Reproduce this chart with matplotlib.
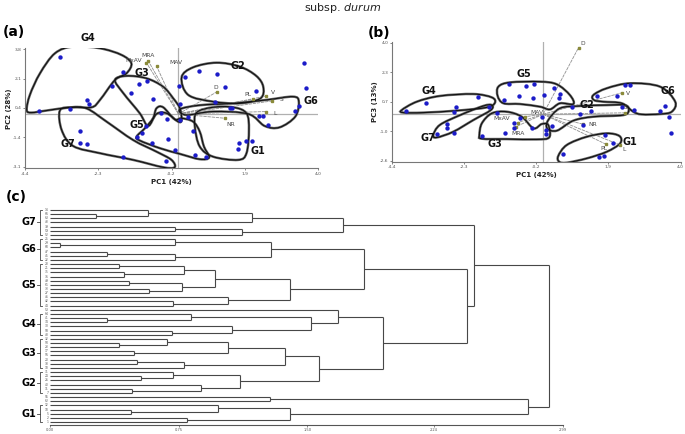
import numpy as np
import matplotlib
matplotlib.use("Agg")
import matplotlib.pyplot as plt
from matplotlib.path import Path
from matplotlib.patches import PathPatch

# ---------------- DATA ----------------
# Panel (a): PC1 vs PC2 scores
a_pc1 = [-3.40, -3.99, -3.11, -2.62, -2.56, -1.58, -1.90, -1.37, -1.13, -0.89,
         -0.73, 0.01, 0.04, -0.51, -0.34, 0.04, 0.26, 0.42, 0.18, 0.58,
         1.11, 1.04, 1.32, 2.21, 1.49, 2.31, 2.43, 2.57, 3.34, 3.45,
         3.59, 3.65, 1.73, 1.95, 2.11, 1.70, -0.92, -1.04, -1.18, -0.75,
         -0.30, -0.09, 0.47, 0.80, -0.36, -1.59, -2.82, -2.83, -2.62, 1.53]
a_pc2 = [3.30, 0.19, 0.29, 0.82, 0.58, 2.43, 1.63, 1.24, 1.73, 1.90,
         0.86, 1.65, 0.58, 0.08, -0.31, -0.35, -0.19, -1.01, 2.18, 2.51,
         2.31, 0.70, 1.59, 1.36, 0.35, -0.10, -0.14, -0.62, 0.16, 0.49,
         2.99, 1.50, -1.67, -1.57, -1.55, -2.06, -0.70, -1.09, -1.36, -1.71,
         -1.44, -2.10, -2.41, -2.49, -2.72, -2.49, -0.99, -1.71, -1.73, 0.33]

a_vec_names = ["MRA", "MxAV", "MAV", "D", "PL", "V", "S", "L", "NR"]
a_vec_x = [-0.87, -0.92, -0.63, 1.11, 2.14, 2.52, 2.69, 2.52, 1.33]
a_vec_y = [3.11, 2.99, 2.80, 1.30, 0.86, 1.05, 0.76, 0.14, -0.25]

hull_a = {
    "G4": ([-4.35, -4.26, -3.97, -3.54, -3.02, -2.25, -1.63, -1.35, -1.49, -1.82, -2.25, -2.49, -3.06, -3.78, -4.21],
           [0.23, 1.11, 2.37, 3.54, 3.93, 3.83, 3.44, 2.95, 2.37, 1.98, 0.82, 0.39, 0.39, 0.20, 0.08]),
    "G3": ([-1.82, -1.49, -0.92, -0.44, -0.15, 0.04, 0.09, -0.01, -0.34, -0.63, -0.87, -1.11, -1.58],
           [1.98, 2.22, 2.08, 1.59, 0.91, 0.33, -0.35, -0.45, 0.04, 0.00, -0.70, 0.04, 1.21]),
    "G5": ([-1.20, -0.96, -0.73, -0.63, -0.44, -0.11, 0.09, 0.42, 0.61, 0.73, 0.88, 0.61, 0.04, -0.53, -1.11],
           [-1.32, -0.83, -0.25, 0.33, 0.39, -0.31, -0.25, -0.45, -1.03, -1.90, -2.53, -2.64, -2.33, -2.00, -1.55]),
    "G7": ([-3.40, -3.06, -2.62, -2.06, -1.30, -0.63, -0.20, -0.11, -0.44, -1.30, -2.25, -3.02, -3.35],
           [0.20, 0.39, 0.31, -0.45, -1.52, -2.20, -2.68, -3.11, -3.11, -2.68, -2.29, -1.87, -0.93]),
    "G2": ([0.09, 0.42, 1.09, 1.76, 2.23, 2.43, 2.35, 1.76, 0.99, 0.28],
           [2.14, 2.72, 2.99, 2.76, 2.22, 1.59, 0.91, 0.62, 0.72, 1.11]),
    "G6": ([0.04, 0.61, 1.57, 2.52, 3.28, 3.45, 3.35, 2.90, 2.47, 2.00, 0.99, 0.23],
           [0.27, 0.51, 0.62, 0.82, 1.01, 0.72, -0.15, -0.78, -0.70, 0.00, 0.14, -0.06]),
    "G1": ([0.52, 0.99, 1.57, 1.95, 2.02, 1.95, 1.71, 0.99, 0.61, 0.47],
           [0.08, 0.39, 0.39, 0.04, -0.93, -2.29, -2.68, -2.49, -1.90, -0.74]),
}
a_group_names = ["G4", "G3", "G2", "G6", "G5", "G7", "G1"]
a_group_x = [-2.60, -1.06, 1.71, 3.81, -1.20, -3.16, 2.28]
a_group_y = [4.41, 2.37, 2.80, 0.76, -0.64, -1.75, -2.16]

# Panel (b): PC1 vs PC3 scores
b_pc1 = [-3.98, -3.40, -2.54, -2.59, -1.88, -1.57, -3.09, -2.80, -2.80, -2.59,
         -1.77, -1.35, -1.11, -0.84, -0.84, -0.67, -0.31, 0.08, 0.08, -0.04,
         -1.14, -0.98, -0.70, -0.50, -0.26, -0.30, 0.04, 0.32, 0.50, 0.45,
         0.26, 0.85, 1.06, 1.38, 1.17, 1.56, 2.16, 2.38, 2.53, 2.29,
         2.64, 3.40, 3.53, 3.67, 3.73, 0.57, 1.63, 1.77, 1.81, 2.02]
b_pc3 = [0.18, 0.61, 0.42, 0.10, 0.98, 0.38, -1.11, -0.57, -0.79, -1.03,
         -1.20, 0.09, -1.03, -0.51, -0.79, -0.19, -0.79, -0.88, -1.11, -0.18,
         0.79, 1.67, 1.04, 1.60, 1.69, 0.92, 1.09, 1.46, 1.13, 0.91,
         -0.66, 0.40, -0.01, 0.20, -0.60, 1.02, 1.02, 1.61, 1.61, 0.42,
         0.23, 0.20, 0.44, -0.18, -1.07, -2.25, -2.39, -2.36, -1.18, -1.59]

b_vec_names = ["D", "V", "S", "NR", "PL", "L", "MAV", "MxAV", "MRA"]
b_vec_x = [1.03, 2.29, 2.38, 1.15, 1.82, 2.24, -0.52, -0.74, -0.79]
b_vec_y = [3.72, 1.20, 0.08, -0.55, -1.67, -1.72, -0.14, -0.47, -0.70]

hull_b = {
    "G4": ([-4.11, -3.67, -3.00, -2.03, -1.49, -1.40, -1.64, -2.51, -3.48, -4.06],
           [0.23, 0.70, 1.02, 1.13, 0.94, 0.64, 0.38, 0.20, 0.09, 0.09]),
    "G7": ([-3.19, -3.00, -2.41, -1.74, -1.49, -1.52, -2.03, -2.61, -3.09],
           [-1.16, -0.60, -0.05, 0.46, 0.51, 0.23, -0.33, -0.98, -1.30]),
    "G5": ([-1.30, -0.96, -0.09, 0.40, 0.78, 0.88, 0.49, 0.20, -0.09, -0.67, -1.15, -1.32],
           [1.54, 1.78, 1.82, 1.67, 1.07, 0.57, 0.61, 0.27, 0.42, 0.57, 0.61, 1.02]),
    "G3": ([-1.85, -1.78, -1.49, -1.06, -0.62, -0.28, -0.04, 0.15, 0.18, -0.19, -1.06, -1.78],
           [-1.16, -0.51, 0.05, 0.14, -0.14, -0.79, -0.55, -0.60, -1.29, -1.41, -1.39, -1.37]),
    "G2": ([0.15, 0.49, 1.07, 1.85, 2.38, 2.49, 2.33, 1.46, 0.88, 0.40, 0.12],
           [-0.33, 0.33, 0.46, 0.51, 0.51, 0.23, -0.05, -0.14, -0.36, -0.92, -0.79]),
    "G6": ([1.46, 1.85, 2.53, 3.40, 3.84, 3.74, 3.40, 2.87, 2.62, 2.29, 1.75, 1.48],
           [1.07, 1.45, 1.73, 1.54, 0.70, 0.14, 0.01, -0.01, 0.14, 0.61, 0.70, 0.79]),
    "G1": ([0.44, 0.69, 1.27, 1.85, 2.22, 2.24, 1.85, 1.27, 0.69, 0.47],
           [-2.34, -1.72, -1.26, -1.07, -1.22, -1.63, -2.10, -2.47, -2.71, -2.66]),
}
b_group_names = ["G4", "G5", "G2", "G6", "G7", "G3", "G1"]
b_group_x = [-3.33, -0.57, 1.27, 3.64, -3.36, -1.40, 2.51]
b_group_y = [1.32, 2.25, 0.51, 1.32, -1.35, -1.67, -1.57]

# Panel (c): dendrogram (leaves top to bottom) and merges (left, right, height)
leaf_labels = ["14", "66", "63", "43", "39", "59", "52",
               "25", "29", "60", "47", "45", "22",
               "28", "21", "35", "36", "49", "61", "33", "27", "46", "42", "44",
               "53",
               "64", "41", "34", "30", "58", "48",
               "32", "50", "23", "17", "56", "20", "38", "18",
               "31", "24", "26", "40", "11", "7",
               "55", "62",
               "12", "10", "5", "2", "1"]
merge_left = [1, 0, 53, 4, 55, 54, 8, 7, 10, 60, 59, 13, 15, 63, 17, 19, 66, 65, 22, 21, 69, 62,
              26, 25, 29, 28, 75, 24, 32, 31, 34, 81, 36, 84, 83, 40, 39, 43, 42, 88, 86, 79, 73, 57,
              45, 48, 47, 50, 98, 96, 95]
merge_right = [2, 52, 3, 5, 6, 56, 9, 58, 11, 12, 61, 14, 16, 64, 18, 20, 67, 68, 23, 70, 71, 72,
               27, 74, 30, 76, 77, 78, 33, 80, 35, 82, 37, 38, 85, 41, 87, 44, 89, 90, 91, 92, 93, 94,
               46, 49, 97, 51, 99, 100, 101]
merge_height = [0.27, 0.57, 1.18, 0.73, 1.12, 1.71, 0.06, 0.73, 0.33, 0.73, 1.29, 0.40, 0.43, 0.78,
                0.46, 0.58, 0.77, 0.96, 0.72, 1.04, 1.40, 1.83,
                0.33, 0.82, 0.71, 1.06, 1.52, 1.68, 0.40, 0.68, 0.49, 1.04, 0.51, 0.78, 1.37,
                0.53, 0.72, 0.48, 0.88, 1.11, 1.57, 1.94, 2.43, 2.47,
                1.28, 0.47, 0.98, 0.80, 1.40, 2.79, 2.91]
c_group_names = ["G7", "G6", "G5", "G4", "G3", "G2", "G1"]
c_group_first = [0, 7, 13, 25, 31, 39, 47]
c_group_last = [6, 12, 23, 30, 38, 44, 51]
c_ticks = [0.00, 0.75, 1.50, 2.24, 2.99]
c_tick_labels = ["0.00", "0.75", "1.50", "2.24", "2.99"]

a_xticks = [-4.4, -2.3, -0.2, 1.9, 4.0]
a_xticklabels = ["-4,4", "-2,3", "-0,2", "1,9", "4,0"]
a_yticks = [3.77, 2.06, 0.35, -1.36, -3.07]
a_yticklabels = ["3,8", "2,1", "0,4", "-1,4", "-3,1"]
b_xticks = [-4.4, -2.3, -0.2, 1.9, 4.0]
b_xticklabels = ["-4,4", "-2,3", "-0,2", "1,9", "4,0"]
b_yticks = [4.0, 2.35, 0.7, -0.95, -2.6]
b_yticklabels = ["4,0", "2,3", "0,7", "-1,0", "-2,6"]

# ---------------- DRAWING ----------------
W, H = 685, 434
fig = plt.figure(figsize=(W / 100, H / 100), dpi=100)
plt.rcParams['font.family'] = ['DejaVu Sans']

def px_axes(l, r, t, b):
    return fig.add_axes([l / W, 1 - b / H, (r - l) / W, (b - t) / H])

def smooth_closed(ax, xs, ys, **kw):
    P = np.column_stack([xs, ys])
    n = len(P)
    verts = [P[0]]
    codes = [Path.MOVETO]
    for i in range(n):
        p0, p1, p2, p3 = P[i - 1], P[i], P[(i + 1) % n], P[(i + 2) % n]
        c1 = p1 + (p2 - p0) / 6.0
        c2 = p2 - (p3 - p1) / 6.0
        verts += [c1, c2, p2]
        codes += [Path.CURVE4] * 3
    ax.add_patch(PathPatch(Path(verts, codes), fill=False, **kw))

dot_col = "#1c1cc8"
vec_col = "#8f8f8f"
vec_end = "#8a8a3a"

def pca_panel(ax, xs, ys, vnames, vx, vy, hulls, gnames, gx, gy,
              xticks, xtl, yticks, ytl, xlim, ylim, xlabel, ylabel):
    ax.set_xlim(*xlim)
    ax.set_ylim(*ylim)
    ax.axhline(0, color="#b0b0b0", lw=0.9, zorder=1)
    ax.axvline(0, color="#b0b0b0", lw=0.9, zorder=1)
    for name in hulls:
        hx, hy = hulls[name]
        smooth_closed(ax, hx, hy, edgecolor="#6a6a6a", lw=1.8, zorder=2)
        smooth_closed(ax, hx, hy, edgecolor="#111111", lw=0.8, zorder=3)
    for n, x, y in zip(vnames, vx, vy):
        ax.plot([0, x], [0, y], color=vec_col, lw=0.6, ls=(0, (4, 1)), zorder=2)
        ax.plot([x], [y], marker="s", ms=1.6, color=vec_end, zorder=3)
    ax.scatter(xs, ys, s=10, color=dot_col, zorder=4, linewidths=0)
    for n, x, y in zip(gnames, gx, gy):
        ax.text(x, y, n, fontsize=7, fontweight="bold", ha="center", va="center",
                color="#111111", zorder=5)
    ax.set_xticks(xticks)
    ax.set_xticklabels(xtl)
    ax.set_yticks(yticks)
    ax.set_yticklabels(ytl)
    ax.tick_params(labelsize=3.2, length=1.5, width=0.5, pad=1, colors="#555555")
    for s in ["top", "right"]:
        ax.spines[s].set_visible(False)
    for s in ["left", "bottom"]:
        ax.spines[s].set_color("#777777")
        ax.spines[s].set_linewidth(0.8)
    ax.set_xlabel(xlabel, fontsize=5, fontweight="bold", labelpad=2, color="#222222")
    ax.set_ylabel(ylabel, fontsize=5, fontweight="bold", labelpad=1, color="#222222")

# Panel (a)
axa = px_axes(25, 318, 48.3, 168.3)
pca_panel(axa, a_pc1, a_pc2, a_vec_names, a_vec_x, a_vec_y, hull_a,
          a_group_names, a_group_x, a_group_y,
          a_xticks, a_xticklabels, a_yticks, a_yticklabels,
          (-4.4, 4.0), (-3.17, 3.83), "PC1 (42%)", "PC2 (28%)")
a_lab_off = {"MRA": (0.0, 0.28), "MxAV": (-0.35, 0.10), "MAV": (0.55, 0.20), "D": (-0.05, 0.22),
             "PL": (-0.15, 0.26), "V": (0.18, 0.22), "S": (0.25, 0.08), "L": (0.25, -0.12),
             "NR": (0.18, -0.38)}
for n, x, y in zip(a_vec_names, a_vec_x, a_vec_y):
    dx, dy = a_lab_off[n]
    axa.text(x + dx, y + dy, n, fontsize=4.3, color="#444444", ha="center", va="center", zorder=5)

# Panel (b)
axb = px_axes(391.7, 680.7, 41.8, 161.6)
pca_panel(axb, b_pc1, b_pc3, b_vec_names, b_vec_x, b_vec_y, hull_b,
          b_group_names, b_group_x, b_group_y,
          b_xticks, b_xticklabels, b_yticks, b_yticklabels,
          (-4.4, 4.0), (-2.65, 4.05), "PC1 (42%)", "PC3 (13%)")
b_lab_off = {"D": (0.12, 0.22), "V": (0.18, -0.02), "S": (0.02, 0.28), "NR": (0.3, -0.02),
             "PL": (-0.05, -0.22), "L": (0.1, -0.25), "MAV": (0.35, 0.22), "MxAV": (-0.45, 0.22),
             "MRA": (0.05, -0.38)}
for n, x, y in zip(b_vec_names, b_vec_x, b_vec_y):
    dx, dy = b_lab_off[n]
    axb.text(x + dx, y + dy, n, fontsize=4.3, color="#444444", ha="center", va="center", zorder=5)

# Panel (c): dendrogram
axc = px_axes(50, 50 + 2.99 * 171.5, 207.0, 425.0)
nleaf = len(leaf_labels)
sp = 4.157
axc.set_xlim(0, 2.99)
axc.set_ylim(nleaf - 1 + 3.0 / sp, -3.0 / sp)
pos = {i: float(i) for i in range(nleaf)}
hgt = {i: 0.0 for i in range(nleaf)}
lc = "#474747"
for k, (l, r, h) in enumerate(zip(merge_left, merge_right, merge_height)):
    node = nleaf + k
    for ch in (l, r):
        axc.plot([hgt[ch], h], [pos[ch], pos[ch]], color=lc, lw=0.8, solid_capstyle="butt")
    axc.plot([h, h], [pos[l], pos[r]], color=lc, lw=0.8, solid_capstyle="butt")
    pos[node] = (pos[l] + pos[r]) / 2.0
    hgt[node] = h

def cx(px):
    return (px - 50) / 171.5

for i, lab in enumerate(leaf_labels):
    axc.text(cx(48.5), i, lab, fontsize=2.2, ha="right", va="center", color="#555555", clip_on=False)
for g, f, l in zip(c_group_names, c_group_first, c_group_last):
    axc.plot([cx(42), cx(40), cx(40), cx(42)], [f, f, l, l], color="#444444", lw=0.6, clip_on=False)
    m = (f + l) / 2.0
    axc.plot([cx(40), cx(37.5)], [m, m], color="#444444", lw=0.6, clip_on=False)
    axc.text(cx(36.5), m, g, fontsize=7, fontweight="bold", ha="right", va="center", clip_on=False)

axc.set_xticks(c_ticks)
axc.set_xticklabels(c_tick_labels)
axc.set_yticks([])
axc.tick_params(axis="x", labelsize=2.6, length=1.5, width=0.5, pad=1, colors="#555555")
for s in ["top", "right", "left"]:
    axc.spines[s].set_visible(False)
axc.spines["bottom"].set_color("#555555")
axc.spines["bottom"].set_linewidth(0.8)

# Titles and panel labels
fig.text(343 / W, 1 - 8 / H, r"subsp. $\mathit{durum}$", fontsize=8, ha="center", va="center",
         color="#222222")
fig.text(3 / W, 1 - 32 / H, "(a)", fontsize=10, fontweight="bold", ha="left", va="center")
fig.text(368 / W, 1 - 33 / H, "(b)", fontsize=10, fontweight="bold", ha="left", va="center")
fig.text(6 / W, 1 - 197 / H, "(c)", fontsize=10, fontweight="bold", ha="left", va="center")

fig.savefig("out.png", dpi=100)
